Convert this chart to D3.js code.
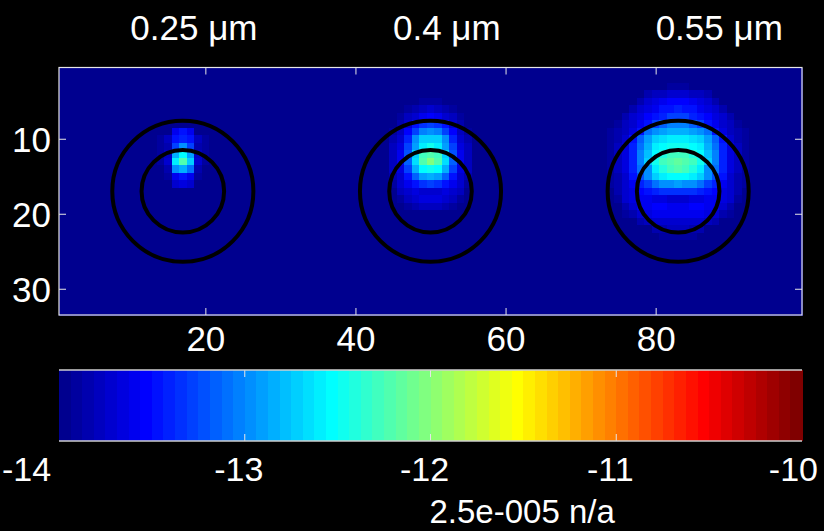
<!DOCTYPE html>
<html>
<head>
<meta charset="utf-8">
<script src="https://cdn.jsdelivr.net/npm/d3@7"></script>
<style>
  html, body { margin: 0; padding: 0; background: #000; }
  text { font-family: "Liberation Sans", Arial, Helvetica, sans-serif; fill: #fff; }
</style>
</head>
<body>
<svg id="chart" width="824" height="531"></svg>
<script>
// Grid size (columns x rows) and the log10 level of the empty field
const nCols = 99;
const nRows = 33;
const floorLevel = -14;

// Axis ticks
const xTicks = [20, 40, 60, 80];
const yTicks = [10, 20, 30];
const cbTicks = [-14, -13, -12, -11, -10];
const cbDomain = [-14, -10];
const cbLabel = "2.5e-005 n/a";

// Titles above each resonator and their x positions (grid units)
const titles = ["0.25 μm", "0.4 μm", "0.55 μm"];
const titleX = [10, 45, 80];

// Ring outlines: centres (grid units) and inner/outer radii
const ringX = [17, 50, 83];
const ringY = 17;
const ringRadii = [5.5, 9.4];

// Field patches, log10 values; origin = [first column, first row]
const spot1Origin = [14, 9];
const spot1 = [
  [-14, -14.00, -13.60, -13.45, -13.60, -14.00, -14],
  [-13.92, -13.80, -13.50, -13.40, -13.50, -13.80, -13.92],
  [-13.92, -13.82, -13.30, -12.95, -13.30, -13.82, -13.92],
  [-13.90, -13.78, -12.85, -12.55, -12.90, -13.78, -13.90],
  [-13.90, -13.70, -12.62, -12.22, -12.70, -13.70, -13.90],
  [-13.94, -13.82, -13.00, -12.85, -13.10, -13.82, -13.94],
  [-14, -13.90, -13.60, -13.50, -13.60, -13.90, -14],
  [-14, -14.00, -13.70, -13.65, -13.70, -14.00, -14]
];

const spot2Origin = [44, 5];
const spot2 = [
  [-14, -14, -14, -14, -13.95, -13.9, -13.9, -13.9, -13.95, -14, -14, -14, -14],
  [-14, -14, -14, -13.9, -13.85, -13.8, -13.75, -13.8, -13.85, -13.9, -14, -14, -14],
  [-14, -14, -13.9, -13.8, -13.7, -13.6, -13.55, -13.6, -13.7, -13.8, -13.9, -14, -14],
  [-14, -13.95, -13.85, -13.7, -13.5, -13.35, -13.3, -13.35, -13.5, -13.7, -13.85, -13.95, -14],
  [-14, -13.9, -13.8, -13.55, -13.3, -13.05, -12.95, -13.05, -13.3, -13.55, -13.8, -13.9, -14],
  [-13.95, -13.85, -13.7, -13.4, -13.0, -12.75, -12.7, -12.75, -13.0, -13.4, -13.7, -13.85, -13.95],
  [-13.95, -13.8, -13.65, -13.3, -12.9, -12.6, -12.5, -12.6, -12.9, -13.3, -13.65, -13.8, -13.95],
  [-13.95, -13.8, -13.6, -13.2, -12.7, -12.3, -12.2, -12.3, -12.7, -13.2, -13.6, -13.8, -13.95],
  [-13.95, -13.8, -13.6, -13.15, -12.65, -12.25, -12.05, -12.25, -12.65, -13.15, -13.6, -13.8, -13.95],
  [-13.95, -13.8, -13.65, -13.3, -12.85, -12.55, -12.45, -12.55, -12.85, -13.3, -13.65, -13.8, -13.95],
  [-14, -13.85, -13.7, -13.45, -13.15, -12.9, -12.85, -12.9, -13.15, -13.45, -13.7, -13.85, -14],
  [-14, -13.9, -13.75, -13.6, -13.45, -13.35, -13.3, -13.35, -13.45, -13.6, -13.75, -13.9, -14],
  [-14, -13.95, -13.8, -13.7, -13.65, -13.7, -13.75, -13.7, -13.65, -13.7, -13.8, -13.95, -14],
  [-14, -14, -13.9, -13.8, -13.7, -13.65, -13.65, -13.65, -13.7, -13.8, -13.9, -14, -14],
  [-14, -14, -14, -13.9, -13.85, -13.8, -13.8, -13.8, -13.85, -13.9, -14, -14, -14]
];

const spot3Origin = [74, 3];
const spot3 = [
  [-14, -14, -14, -14, -14, -14, -14, -13.95, -13.92, -13.9, -13.92, -13.95, -14, -14, -14, -14, -14, -14, -14],
  [-14, -14, -14, -14, -13.95, -13.85, -13.8, -13.78, -13.75, -13.75, -13.75, -13.78, -13.8, -13.85, -13.95, -14, -14, -14, -14],
  [-14, -14, -14, -13.95, -13.85, -13.75, -13.68, -13.62, -13.56, -13.53, -13.56, -13.62, -13.68, -13.75, -13.85, -13.95, -14, -14, -14],
  [-14, -14, -13.95, -13.85, -13.75, -13.66, -13.58, -13.5, -13.44, -13.4, -13.44, -13.5, -13.58, -13.66, -13.75, -13.85, -13.95, -14, -14],
  [-14, -13.95, -13.85, -13.75, -13.66, -13.56, -13.46, -13.38, -13.3, -13.26, -13.3, -13.38, -13.46, -13.56, -13.66, -13.75, -13.85, -13.95, -14],
  [-13.95, -13.88, -13.8, -13.7, -13.58, -13.44, -13.3, -13.16, -13.06, -13.02, -13.06, -13.16, -13.3, -13.44, -13.58, -13.7, -13.8, -13.88, -13.95],
  [-13.92, -13.85, -13.76, -13.64, -13.45, -13.1, -12.96, -12.88, -12.84, -12.82, -12.84, -12.88, -12.96, -13.1, -13.45, -13.64, -13.76, -13.85, -13.92],
  [-13.9, -13.82, -13.7, -13.5, -13.16, -12.9, -12.7, -12.64, -12.6, -12.58, -12.6, -12.64, -12.7, -12.9, -13.16, -13.5, -13.7, -13.82, -13.9],
  [-13.9, -13.8, -13.66, -13.42, -13.1, -12.82, -12.6, -12.52, -12.47, -12.44, -12.47, -12.52, -12.6, -12.82, -13.1, -13.42, -13.66, -13.8, -13.9],
  [-13.9, -13.8, -13.64, -13.38, -13.05, -12.76, -12.52, -12.38, -12.3, -12.26, -12.3, -12.38, -12.52, -12.76, -13.05, -13.38, -13.64, -13.8, -13.9],
  [-13.9, -13.8, -13.64, -13.38, -13.04, -12.74, -12.5, -12.3, -12.2, -12.14, -12.2, -12.3, -12.5, -12.74, -13.04, -13.38, -13.64, -13.8, -13.9],
  [-13.9, -13.8, -13.66, -13.42, -13.12, -12.95, -12.62, -12.38, -12.26, -12.22, -12.26, -12.38, -12.62, -12.95, -13.12, -13.42, -13.66, -13.8, -13.9],
  [-13.9, -13.82, -13.7, -13.5, -13.25, -12.98, -12.7, -12.6, -12.55, -12.52, -12.55, -12.6, -12.7, -12.98, -13.25, -13.5, -13.7, -13.82, -13.9],
  [-13.92, -13.84, -13.72, -13.58, -13.42, -13.28, -13.12, -13.0, -12.95, -12.93, -12.95, -13.0, -13.12, -13.28, -13.42, -13.58, -13.72, -13.84, -13.92],
  [-13.94, -13.86, -13.74, -13.64, -13.56, -13.48, -13.42, -13.36, -13.33, -13.32, -13.33, -13.36, -13.42, -13.48, -13.56, -13.64, -13.74, -13.86, -13.94],
  [-13.96, -13.9, -13.74, -13.64, -13.6, -13.6, -13.64, -13.68, -13.72, -13.74, -13.72, -13.68, -13.64, -13.6, -13.6, -13.64, -13.74, -13.9, -13.96],
  [-14, -13.94, -13.84, -13.7, -13.62, -13.58, -13.56, -13.56, -13.58, -13.6, -13.58, -13.56, -13.56, -13.58, -13.62, -13.7, -13.84, -13.94, -14],
  [-14, -14, -13.92, -13.82, -13.72, -13.66, -13.62, -13.6, -13.6, -13.6, -13.6, -13.6, -13.62, -13.66, -13.72, -13.82, -13.92, -14, -14],
  [-14, -14, -14, -13.94, -13.86, -13.78, -13.74, -13.72, -13.72, -13.72, -13.72, -13.72, -13.74, -13.78, -13.86, -13.94, -14, -14, -14],
  [-14, -14, -14, -14, -14, -13.94, -13.86, -13.82, -13.8, -13.8, -13.8, -13.82, -13.86, -13.94, -14, -14, -14, -14, -14],
  [-14, -14, -14, -14, -14, -14, -14, -13.93, -13.92, -13.92, -13.92, -13.93, -14, -14, -14, -14, -14, -14, -14]
];

// ---- assemble the full field ----
const cells = [];
const field = Array.from({length: nRows}, () => Array(nCols).fill(floorLevel));
[[spot1, spot1Origin], [spot2, spot2Origin], [spot3, spot3Origin]].forEach(([patch, [c0, r0]]) => {
  patch.forEach((row, i) => row.forEach((v, j) => { field[r0 - 1 + i][c0 - 1 + j] = v; }));
});
field.forEach((row, i) => row.forEach((v, j) => cells.push({col: j + 1, row: i + 1, v})));

// ---- 64-step jet colour map ----
function jet64() {
  const n = 64, m = 16;
  const u = [];
  for (let i = 1; i <= m; i++) u.push(i / m);
  for (let i = 1; i < m; i++) u.push(1);
  for (let i = m; i >= 1; i--) u.push(i / m);
  const J = Array.from({length: n}, () => [0, 0, 0]);
  const g0 = Math.ceil(m / 2);
  u.forEach((val, k) => {
    const g = g0 + k + 1, r = g + m, b = g - m;
    if (r >= 1 && r <= n) J[r - 1][0] = val;
    if (g >= 1 && g <= n) J[g - 1][1] = val;
    if (b >= 1 && b <= n) J[b - 1][2] = val;
  });
  return J.map(c => d3.rgb(c[0] * 255, c[1] * 255, c[2] * 255).formatHex());
}
const jet = jet64();
const levelIndex = d3.scaleQuantize().domain(cbDomain).range(d3.range(64));
const colourOf = v => jet[levelIndex(Math.max(cbDomain[0], Math.min(cbDomain[1], v)))];

// ---- layout ----
const svg = d3.select("#chart");
const plot = {left: 59, right: 802, top: 67.5, bottom: 315};
const cbBox = {top: 370, bottom: 441};

const x = d3.scaleLinear().domain([0.5, nCols + 0.5]).range([plot.left, plot.right]);
const y = d3.scaleLinear().domain([0.5, nRows + 0.5]).range([plot.top, plot.bottom]);

// field cells
svg.append("g").attr("shape-rendering", "crispEdges")
  .selectAll("rect").data(cells).join("rect")
  .attr("x", d => x(d.col - 0.5))
  .attr("y", d => y(d.row - 0.5))
  .attr("width", d => x(d.col + 0.5) - x(d.col - 0.5) + 0.6)
  .attr("height", d => y(d.row + 0.5) - y(d.row - 0.5) + 0.6)
  .attr("fill", d => colourOf(d.v));

// ring outlines
const rings = [];
ringX.forEach(cx => ringRadii.forEach(r => rings.push({cx, r})));
svg.append("g").selectAll("circle").data(rings).join("circle")
  .attr("cx", d => x(d.cx))
  .attr("cy", y(ringY))
  .attr("r", d => x(d.r) - x(0))
  .attr("fill", "none")
  .attr("stroke", "#000")
  .attr("stroke-width", 4);

// axes (ticks point inward, MATLAB style)
const tickLen = 7;
const frameColour = "#e6e6e6";
const axisFont = 35;

const xAxis = svg.append("g").attr("transform", `translate(0,${plot.bottom})`)
  .call(d3.axisBottom(x).tickValues(xTicks).tickSize(-tickLen).tickPadding(11).tickFormat(d3.format("d")));
const yAxis = svg.append("g").attr("transform", `translate(${plot.left},0)`)
  .call(d3.axisLeft(y).tickValues(yTicks).tickSize(-tickLen).tickPadding(8).tickFormat(d3.format("d")));
[xAxis, yAxis].forEach(a => {
  a.select(".domain").remove();
  a.selectAll(".tick line").attr("stroke", frameColour);
  a.selectAll(".tick text").attr("font-size", axisFont).style("font-family", null).attr("fill", "#fff");
});
yAxis.selectAll(".tick text").attr("dy", "0.36em");

const xTop = svg.append("g").attr("transform", `translate(0,${plot.top})`)
  .call(d3.axisTop(x).tickValues(xTicks).tickSize(-tickLen).tickFormat(""));
const yRight = svg.append("g").attr("transform", `translate(${plot.right},0)`)
  .call(d3.axisRight(y).tickValues(yTicks).tickSize(-tickLen).tickFormat(""));
[xTop, yRight].forEach(a => {
  a.select(".domain").remove();
  a.selectAll(".tick line").attr("stroke", frameColour);
});

svg.append("rect")
  .attr("x", plot.left).attr("y", plot.top)
  .attr("width", plot.right - plot.left).attr("height", plot.bottom - plot.top)
  .attr("fill", "none").attr("stroke", frameColour).attr("stroke-width", 1.2);

// titles
svg.append("g").selectAll("text").data(titles).join("text")
  .attr("x", (d, i) => x(titleX[i]))
  .attr("y", 40)
  .attr("font-size", axisFont)
  .text(d => d);

// ---- colour bar ----
const cx = d3.scaleLinear().domain(cbDomain).range([plot.left, plot.right]);
const step = (cbDomain[1] - cbDomain[0]) / jet.length;
svg.append("g").attr("shape-rendering", "crispEdges")
  .selectAll("rect").data(jet).join("rect")
  .attr("x", (d, i) => cx(cbDomain[0] + i * step))
  .attr("y", cbBox.top)
  .attr("width", (d, i) => cx(cbDomain[0] + (i + 1) * step) - cx(cbDomain[0] + i * step) + 0.6)
  .attr("height", cbBox.bottom - cbBox.top)
  .attr("fill", d => d);

const cbTickG = svg.append("g");
cbTicks.slice(1, -1).forEach(t => {
  cbTickG.append("line").attr("x1", cx(t)).attr("x2", cx(t))
    .attr("y1", cbBox.top).attr("y2", cbBox.top + tickLen).attr("stroke", frameColour);
  cbTickG.append("line").attr("x1", cx(t)).attr("x2", cx(t))
    .attr("y1", cbBox.bottom).attr("y2", cbBox.bottom - tickLen).attr("stroke", frameColour);
});
[cbBox.top, cbBox.bottom].forEach(yy => {
  svg.append("line").attr("x1", plot.left).attr("x2", plot.right)
    .attr("y1", yy).attr("y2", yy).attr("stroke", "#cfcfcf").attr("stroke-width", 1.5);
});

const cbFont = 34;
svg.append("g").selectAll("text").data(cbTicks).join("text")
  .attr("x", (d, i) => i === 0 ? 2 : i === cbTicks.length - 1 ? 818 : cx(d) - 6)
  .attr("y", 481)
  .attr("text-anchor", (d, i) => i === 0 ? "start" : i === cbTicks.length - 1 ? "end" : "middle")
  .attr("font-size", cbFont)
  .text(d => d3.format("d")(d).replace("−", "-"));

svg.append("text")
  .attr("x", cx((cbDomain[0] + cbDomain[1]) / 2) - 1)
  .attr("y", 523)
  .attr("font-size", 33)
  .text(cbLabel);
</script>
</body>
</html>
